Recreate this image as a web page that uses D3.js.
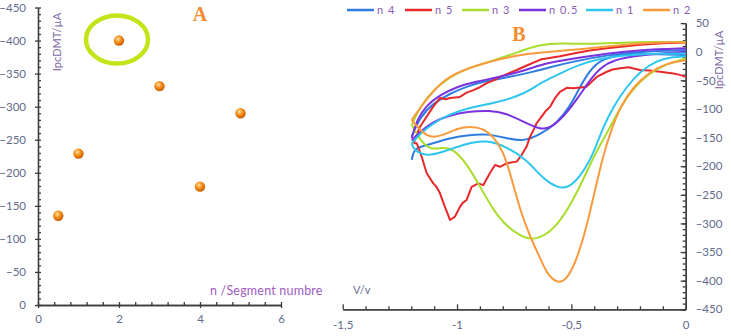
<!DOCTYPE html>
<html>
<head>
<meta charset="utf-8">
<script src="https://cdn.jsdelivr.net/npm/d3@7"></script>
<style>
body { margin: 0; background: #fff; }
svg { display: block; font-family: Lato, "Open Sans", sans-serif; }
.axis path, .axis line { stroke: #3a3a3a; stroke-width: 1.3; }
.axis text { fill: #5f6b8c; font-size: 11.5px; font-family: Lato, sans-serif; }
</style>
</head>
<body>
<svg id="chart" width="731" height="336"></svg>
<script>
// ---- panel A : peak current vs segment number
var segN   = [0.5, 1, 2, 3, 4, 5];
var segIpc = [-135, -229, -400, -331, -179, -290];
var ticksA_x = [0, 2, 4, 6];
var ticksA_y = [0, -50, -100, -150, -200, -250, -300, -350, -400, -450];

// ---- panel B : voltammograms, [V, I] along the loop (upper branch then lower branch)
var seriesNames = ["n 4", "n 5", "n 3", "n 0.5", "n 1", "n 2"];
var seriesColors = ["#2f7de1", "#e8282b", "#a8dd2c", "#7a32e0", "#2cc6ee", "#f99a3c"];

var cv_n4 = [[-1.198,-148],[-1.162,-114],[-1.104,-90],[-1.031,-73],[-0.958,-61],[-0.885,-52],[-0.768,-44],[-0.666,-35],[-0.593,-27],[-0.491,-17],[-0.345,-6],[-0.2,0],[0,3],
  [0,-6],[-0.2,-3],[-0.302,-6],[-0.375,-15],[-0.418,-32],[-0.462,-61],[-0.506,-96],[-0.564,-125],[-0.637,-145],[-0.71,-157],[-0.783,-151],[-0.87,-143],[-0.958,-146],[-1.031,-151],[-1.104,-160],[-1.162,-166],[-1.19,-172],[-1.198,-189]];
var cv_n5 = [[-1.19,-160],[-1.162,-131],[-1.104,-96],[-1.075,-81],[-1.05,-83],[-1.031,-81],[-0.987,-79],[-0.96,-72],[-0.929,-67],[-0.9,-62],[-0.87,-55],[-0.84,-50],[-0.812,-44],[-0.739,-32],[-0.7,-25],[-0.63,-13],[-0.55,-8],[-0.491,-3],[-0.42,2],[-0.345,6],[-0.2,12],[-0.1,15],[0,16],
  [0,-44],[-0.03,-40],[-0.054,-38],[-0.112,-35],[-0.16,-33],[-0.2,-32],[-0.25,-27],[-0.287,-29],[-0.32,-31],[-0.345,-35],[-0.389,-44],[-0.41,-52],[-0.433,-61],[-0.491,-64],[-0.52,-63],[-0.55,-70],[-0.57,-80],[-0.593,-96],[-0.615,-105],[-0.637,-117],[-0.652,-125],[-0.666,-137],[-0.68,-148],[-0.695,-165],[-0.717,-180],[-0.739,-192],[-0.783,-195],[-0.812,-201],[-0.834,-198],[-0.856,-212],[-0.885,-233],[-0.907,-230],[-0.936,-236],[-0.958,-259],[-0.975,-264],[-0.987,-271],[-1.009,-288],[-1.031,-294],[-1.042,-282],[-1.053,-271],[-1.075,-247],[-1.09,-236],[-1.104,-230],[-1.133,-212],[-1.155,-183],[-1.176,-160],[-1.19,-160]];
var cv_n3 = [[-1.198,-128],[-1.162,-96],[-1.104,-67],[-1.031,-44],[-0.958,-29],[-0.812,-12],[-0.695,5],[-0.637,12],[-0.55,15],[-0.418,13],[-0.273,16],[-0.127,17],[0,17],
  [0,-12],[-0.083,-21],[-0.17,-40],[-0.235,-67],[-0.29,-100],[-0.335,-135],[-0.367,-158],[-0.395,-178],[-0.433,-210],[-0.491,-259],[-0.564,-306],[-0.637,-326],[-0.695,-329],[-0.783,-306],[-0.841,-277],[-0.899,-236],[-0.958,-195],[-1.016,-170],[-1.06,-167],[-1.118,-172],[-1.162,-154],[-1.198,-128]];
var cv_n05 = [[-1.198,-151],[-1.176,-119],[-1.133,-93],[-1.075,-76],[-1.001,-61],[-0.914,-52],[-0.812,-44],[-0.695,-32],[-0.615,-20],[-0.491,-12],[-0.345,-3],[-0.2,3],[0,6],
  [0,0],[-0.2,-6],[-0.317,-14],[-0.375,-29],[-0.418,-49],[-0.477,-84],[-0.535,-114],[-0.593,-134],[-0.637,-136],[-0.71,-122],[-0.783,-108],[-0.856,-102],[-0.958,-105],[-1.031,-111],[-1.104,-122],[-1.162,-140],[-1.198,-155]];
var cv_n1 = [[-1.198,-160],[-1.162,-143],[-1.104,-125],[-1.031,-109],[-0.958,-99],[-0.841,-90],[-0.739,-79],[-0.666,-64],[-0.637,-55],[-0.55,-38],[-0.462,-22],[-0.375,-12],[-0.273,-6],[-0.127,-3],[0,-3],
  [0,-8],[-0.054,-9],[-0.127,-15],[-0.2,-35],[-0.258,-61],[-0.317,-96],[-0.36,-131],[-0.397,-170],[-0.418,-189],[-0.462,-218],[-0.506,-236],[-0.55,-239],[-0.593,-230],[-0.637,-216],[-0.695,-189],[-0.783,-166],[-0.87,-154],[-0.958,-160],[-1.06,-175],[-1.133,-183],[-1.19,-172],[-1.198,-160]];
var cv_n2 = [[-1.198,-119],[-1.147,-90],[-1.089,-61],[-1.016,-38],[-0.885,-20],[-0.739,-6],[-0.637,-1],[-0.491,3],[-0.345,9],[-0.2,15],[-0.054,17],[0,16],
  [0,-15],[-0.083,-20],[-0.156,-35],[-0.229,-61],[-0.287,-96],[-0.331,-143],[-0.36,-180],[-0.397,-242],[-0.433,-306],[-0.477,-364],[-0.52,-399],[-0.564,-405],[-0.608,-387],[-0.637,-360],[-0.681,-323],[-0.724,-277],[-0.768,-212],[-0.797,-175],[-0.841,-148],[-0.885,-134],[-0.943,-130],[-1.001,-134],[-1.06,-146],[-1.118,-151],[-1.162,-137],[-1.198,-119]];
var seriesData = [cv_n4, cv_n5, cv_n3, cv_n05, cv_n1, cv_n2];
var ticksB_x = [-1.5, -1, -0.5, 0];
var ticksB_y = [50, 0, -50, -100, -150, -200, -250, -300, -350, -400, -450];

var svg = d3.select("#chart");
var defs = svg.append("defs");
var grad = defs.append("radialGradient").attr("id", "ball")
    .attr("cx", "40%").attr("cy", "35%").attr("r", "65%");
grad.append("stop").attr("offset", "0%").attr("stop-color", "#ffe2a8");
grad.append("stop").attr("offset", "45%").attr("stop-color", "#f8941e");
grad.append("stop").attr("offset", "100%").attr("stop-color", "#c85a00");

// ================= panel A
var xA = d3.scaleLinear().domain([0, 6]).range([38, 281]);
var yA = d3.scaleLinear().domain([0, -450]).range([305, 7.5]);
var gA = svg.append("g");

function range(a, b, s) { var r = []; for (var v = a; v <= b + 1e-9; v += s) r.push(+v.toFixed(3)); return r; }

gA.append("g").attr("class", "axis").attr("transform", "translate(0," + yA(0) + ")")
    .call(d3.axisTop(xA).tickValues(range(0, 6, 0.4)).tickSize(3).tickSizeOuter(0).tickFormat(""));
gA.append("g").attr("class", "axis").attr("transform", "translate(0," + yA(0) + ")")
    .call(d3.axisBottom(xA).tickValues(ticksA_x).tickSize(3).tickSizeOuter(0).tickPadding(7)
        .tickFormat(d3.format("d")));
gA.append("g").attr("class", "axis").attr("transform", "translate(" + xA(0) + ",0)")
    .call(d3.axisRight(yA).tickValues(range(-450, 0, 10)).tickSize(3).tickSizeOuter(0).tickFormat(""));
gA.append("g").attr("class", "axis").attr("transform", "translate(" + xA(0) + ",0)")
    .call(d3.axisLeft(yA).tickValues(ticksA_y).tickSize(3).tickSizeOuter(0).tickPadding(9));

gA.append("text").attr("transform", "translate(61,42) rotate(-90)")
    .attr("text-anchor", "middle").attr("fill", "#7d6aa6").style("font-size", "11px")
    .text("IpcDMT/µA");
gA.append("text").attr("x", 210).attr("y", 295)
    .attr("fill", "#a25bc0").style("font-size", "12.5px").style("letter-spacing", "0.2px")
    .text("n /Segment numbre");
gA.append("text").attr("x", 200).attr("y", 21).attr("text-anchor", "middle")
    .attr("fill", "#f58a2e").style("font-family", "'Liberation Serif', serif")
    .style("font-weight", "bold").style("font-size", "20px").text("A");

gA.append("ellipse").attr("cx", xA(segN[2]) - 2).attr("cy", yA(segIpc[2]) - 1)
    .attr("rx", 31).attr("ry", 24)
    .attr("fill", "none").attr("stroke", "#c3e518").attr("stroke-width", 4.5);

gA.selectAll("circle.pt").data(segN).enter().append("circle")
    .attr("class", "pt")
    .attr("cx", function(d) { return xA(d); })
    .attr("cy", function(d, i) { return yA(segIpc[i]); })
    .attr("r", 5.2)
    .attr("fill", "url(#ball)");

// ================= panel B
var xB = d3.scaleLinear().domain([-1.5, 0]).range([342.7, 685.7]);
var yB = d3.scaleLinear().domain([-450, 50]).range([309.3, 23.1]);
var gB = svg.append("g");

var xMinor = gB.append("g").attr("class", "axis").attr("transform", "translate(0," + yB(-450) + ")")
    .call(d3.axisTop(xB).tickValues(range(-1.5, 0, 0.1)).tickSize(3).tickSizeOuter(0).tickFormat(""));
xMinor.selectAll(".tick line").filter(function(d) { return ticksB_x.indexOf(d) >= 0; })
    .attr("y2", -5);
gB.append("g").attr("class", "axis").attr("transform", "translate(0," + yB(-450) + ")")
    .call(d3.axisBottom(xB).tickValues(ticksB_x).tickSize(0).tickSizeOuter(0).tickPadding(12)
        .tickFormat(function(d) { return String(d).replace(".", ","); }));
gB.append("g").attr("class", "axis").attr("transform", "translate(" + xB(0) + ",0)")
    .call(d3.axisLeft(yB).tickValues(range(-450, 50, 10)).tickSize(3).tickSizeOuter(0).tickFormat(""));
gB.append("g").attr("class", "axis").attr("transform", "translate(" + xB(0) + ",0)")
    .call(d3.axisRight(yB).tickValues(ticksB_y).tickSizeInner(-5).tickSizeOuter(0).tickPadding(10));

var smooth = d3.line()
    .x(function(d) { return xB(d[0]); })
    .y(function(d) { return yB(d[1]); })
    .curve(d3.curveBasis);
var rough = d3.line()
    .x(function(d) { return xB(d[0]); })
    .y(function(d) { return yB(d[1]); });

// each loop is drawn as its two branches, split at the switching potential (V = 0)
function branches(d) {
    var k = 0;
    while (k < d.length - 1 && !(d[k][0] === 0 && d[k + 1][0] === 0)) k++;
    return [d.slice(0, k + 1), d.slice(k + 1)];
}

seriesData.forEach(function(d, i) {
    gB.selectAll(null).data(branches(d)).enter().append("path")
        .attr("class", "cv")
        .attr("d", function(b) { return i == 1 ? rough(b) : smooth(b); })
        .attr("fill", "none")
        .attr("stroke", seriesColors[i])
        .attr("stroke-width", 2)
        .attr("stroke-linejoin", "round");
});

gB.append("text").attr("transform", "translate(723,60) rotate(-90)")
    .attr("text-anchor", "middle").attr("fill", "#7d6aa6").style("font-size", "11px")
    .text("IpcDMT/µA");
gB.append("text").attr("x", 353).attr("y", 294)
    .attr("fill", "#6a6f98").style("font-size", "11px").text("V/v");
gB.append("text").attr("x", 519).attr("y", 41).attr("text-anchor", "middle")
    .attr("fill", "#f58a2e").style("font-family", "'Liberation Serif', serif")
    .style("font-weight", "bold").style("font-size", "20px").text("B");

// legend
var legX = [347, 405, 462, 519, 586, 643];
var leg = gB.selectAll("g.leg").data(seriesNames).enter().append("g")
    .attr("class", "leg")
    .attr("transform", function(d, i) { return "translate(" + legX[i] + ",10)"; });
leg.append("line").attr("x1", 0).attr("x2", 27).attr("y1", 0).attr("y2", 0)
    .attr("stroke", function(d, i) { return seriesColors[i]; }).attr("stroke-width", 2.5);
leg.append("text").attr("x", 30).attr("y", 4)
    .attr("fill", "#8a5ab8").style("font-size", "11px").style("letter-spacing", "1px")
    .text(function(d) { return d; });
</script>
</body>
</html>
